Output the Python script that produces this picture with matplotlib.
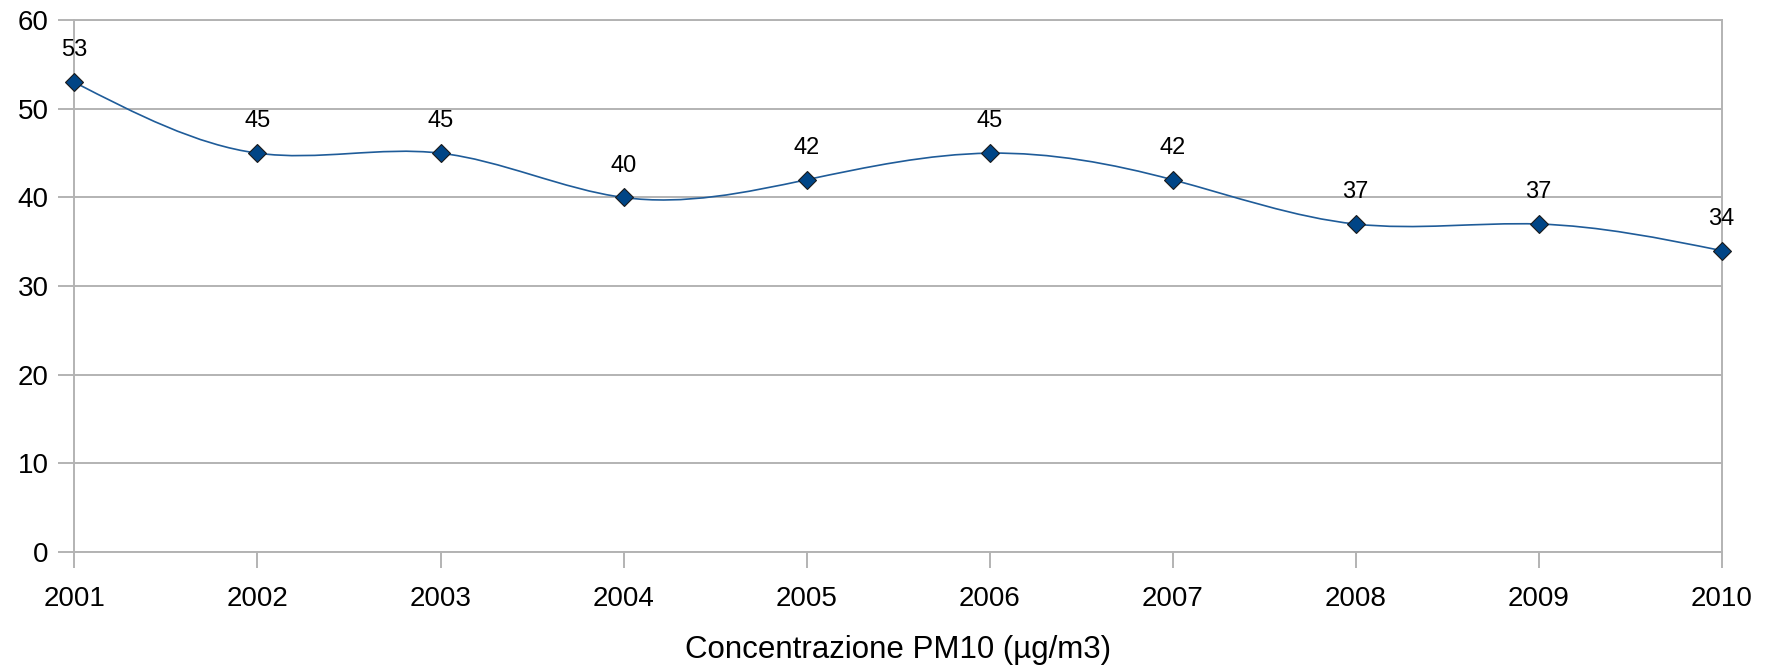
import numpy as np
import matplotlib
matplotlib.use("Agg")
import matplotlib.pyplot as plt
from matplotlib.path import Path
from matplotlib.patches import PathPatch

plt.rcParams['font.family'] = ['Liberation Sans', 'DejaVu Sans']

anni = [2001, 2002, 2003, 2004, 2005, 2006, 2007, 2008, 2009, 2010]
pm10 = [53, 45, 45, 40, 42, 45, 42, 37, 37, 34]
etichette = [str(v) for v in pm10]

blu = '#004586'
grigio = '#b3b3b3'

# spline cubica naturale -> segmenti di Bezier
x = np.array(anni, dtype=float)
y = np.array(pm10, dtype=float)
n = len(x)
h = np.diff(x)
A = np.zeros((n, n))
b = np.zeros(n)
A[0, 0] = 1
A[-1, -1] = 1
for i in range(1, n - 1):
    A[i, i - 1] = h[i - 1]
    A[i, i] = 2 * (h[i - 1] + h[i])
    A[i, i + 1] = h[i]
    b[i] = 6 * ((y[i + 1] - y[i]) / h[i] - (y[i] - y[i - 1]) / h[i - 1])
M = np.linalg.solve(A, b)

verts = [(x[0], y[0])]
codes = [Path.MOVETO]
for i in range(n - 1):
    s = (y[i + 1] - y[i]) / h[i]
    d0 = s - h[i] * (2 * M[i] + M[i + 1]) / 6
    d1 = s + h[i] * (M[i] + 2 * M[i + 1]) / 6
    verts += [(x[i] + h[i] / 3, y[i] + d0 * h[i] / 3),
              (x[i + 1] - h[i] / 3, y[i + 1] - d1 * h[i] / 3),
              (x[i + 1], y[i + 1])]
    codes += [Path.CURVE4] * 3

fig = plt.figure(figsize=(17.69, 6.68), dpi=100)
ax = fig.add_axes([0.0421, 0.174, 0.9311, 0.7956])

ax.add_patch(PathPatch(Path(verts, codes), facecolor='none', edgecolor='#1f5c99',
                       lw=1.2, zorder=3))
ax.plot(anni, pm10, linestyle='none', marker='D', markersize=9,
        markerfacecolor=blu, markeredgecolor='#1a1a1a', markeredgewidth=0.8,
        zorder=4, clip_on=False)

for a, v, t in zip(anni, pm10, etichette):
    ax.annotate(t, (a, v), xytext=(0, 23), textcoords='offset points',
                ha='center', va='center', fontsize=17)

ax.set_xlim(2001, 2010)
ax.set_ylim(0, 60)
ax.set_xticks(anni)
ax.set_yticks(range(0, 61, 10))
ax.yaxis.grid(True, color=grigio, lw=1.4)
ax.set_axisbelow(True)
for sp in ax.spines.values():
    sp.set_color(grigio)
    sp.set_linewidth(1.4)
ax.tick_params(axis='both', colors=grigio, width=1.4, length=11.5,
               labelcolor='black', labelsize=20)
ax.tick_params(axis='x', pad=13)
ax.tick_params(axis='y', pad=7)

ax.set_xlabel('Concentrazione PM10 (µg/m3)', fontsize=22.5, labelpad=17)

fig.savefig('out.png', dpi=100)
